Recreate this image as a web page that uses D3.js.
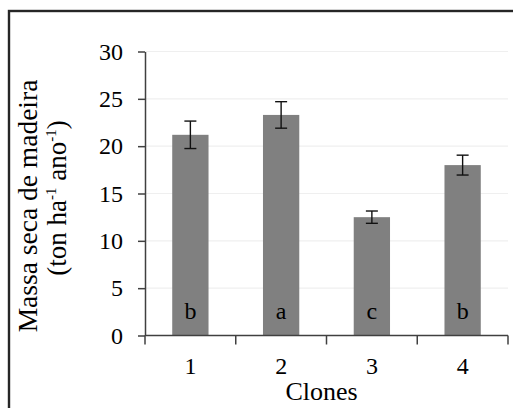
<!DOCTYPE html>
<html><head><meta charset="utf-8">
<script src="https://cdn.jsdelivr.net/npm/d3@7"></script>
<style>html,body{margin:0;padding:0;background:#fff;}svg{display:block;}
svg text{font-family:"Liberation Serif","Times New Roman",Times,"DejaVu Serif",serif;}</style>
</head><body>
<script>
const categories = ["1","2","3","4"];
const means = [21.2, 23.3, 12.5, 18.0];
const errors = [1.45, 1.4, 0.65, 1.05];
const letters = ["b","a","c","b"];
const yTicks = [0,5,10,15,20,25,30];
const xTitle = "Clones";
const yTitle1 = "Massa seca de madeira";

const W = 513, H = 408;
const svg = d3.select("body").append("svg").attr("width", W).attr("height", H);

// outer frame
svg.append("rect").attr("x", 9).attr("y", 11).attr("width", 520).attr("height", 420)
  .attr("fill", "none").attr("stroke", "#262626").attr("stroke-width", 2.4);

const x = d3.scaleBand().domain(categories).range([145, 508]).paddingInner(0.6).paddingOuter(0.3);
const y = d3.scaleLinear().domain([0, 30]).range([335.5, 51.5]);

// gridlines
svg.append("g").selectAll("line").data(yTicks.filter(d => d > 0)).join("line")
  .attr("x1", 145).attr("x2", 508).attr("y1", d => y(d)).attr("y2", d => y(d))
  .attr("stroke", "#efefef").attr("stroke-width", 1.2);

// bars
svg.append("g").selectAll("rect").data(categories).join("rect")
  .attr("x", d => x(d)).attr("width", x.bandwidth())
  .attr("y", (d, i) => y(means[i])).attr("height", (d, i) => y(0) - y(means[i]))
  .attr("fill", "#808080");

// error bars
const eb = svg.append("g").attr("stroke", "#111").attr("stroke-width", 1.4);
categories.forEach((c, i) => {
  const cx = x(c) + x.bandwidth() / 2;
  const top = y(means[i] + errors[i]), bot = y(means[i] - errors[i]);
  eb.append("line").attr("x1", cx).attr("x2", cx).attr("y1", top).attr("y2", bot);
  eb.append("line").attr("x1", cx - 6).attr("x2", cx + 6).attr("y1", top).attr("y2", top);
  eb.append("line").attr("x1", cx - 6).attr("x2", cx + 6).attr("y1", bot).attr("y2", bot);
});

// letters
svg.append("g").selectAll("text").data(categories).join("text")
  .attr("x", d => x(d) + x.bandwidth() / 2).attr("y", 319)
  .attr("text-anchor", "middle").style("font-size", "24px")
  .attr("fill", "#000").text((d, i) => letters[i]);

// y axis
const yAxis = svg.append("g").attr("transform", "translate(145,0)")
  .call(d3.axisLeft(y).tickValues(yTicks).tickSize(7).tickSizeOuter(0).tickPadding(15));
yAxis.attr("font-family", null).attr("font-size", null);
yAxis.selectAll("path,line").attr("stroke", "#404040").attr("stroke-width", 1.5);
yAxis.selectAll("text").style("font-size", "24px").attr("fill", "#000");

// x axis
const step = x.step();
const bounds = categories.map(c => x(c) + x.bandwidth() / 2 - step / 2);
bounds.push(x(categories[categories.length - 1]) + x.bandwidth() / 2 + step / 2);
const xg = svg.append("g").attr("transform", `translate(0,${y(0)})`);
xg.append("line").attr("x1", bounds[0]).attr("x2", bounds[bounds.length - 1])
  .attr("stroke", "#404040").attr("stroke-width", 1.5);
xg.selectAll("line.t").data(bounds).join("line").attr("class", "t")
  .attr("x1", d => d).attr("x2", d => d).attr("y1", 0).attr("y2", 9)
  .attr("stroke", "#404040").attr("stroke-width", 1.5);
xg.selectAll("text").data(categories).join("text")
  .attr("x", d => x(d) + x.bandwidth() / 2).attr("y", 38.5)
  .attr("text-anchor", "middle").style("font-size", "24px")
  .attr("fill", "#000").text(d => d);

// x title
svg.append("text").attr("x", (bounds[0] + bounds[bounds.length - 1]) / 2 - 5).attr("y", 400)
  .attr("text-anchor", "middle").style("font-size", "26px")
  .attr("fill", "#000").text(xTitle);

// y title
svg.append("text").attr("transform", "translate(37,206) rotate(-90)")
  .attr("text-anchor", "middle").style("font-size", "27.5px")
  .attr("fill", "#000").text(yTitle1);
const yt2 = svg.append("text").attr("transform", "translate(66,198) rotate(-90)")
  .attr("text-anchor", "middle").style("font-size", "27px")
  .attr("fill", "#000");
yt2.append("tspan").text("(ton ha");
yt2.append("tspan").style("font-size", "15px").attr("dy", -10).text("-1");
yt2.append("tspan").attr("dy", 10).text(" ano");
yt2.append("tspan").style("font-size", "15px").attr("dy", -10).text("-1");
yt2.append("tspan").attr("dy", 10).text(")");
</script>
</body></html>
